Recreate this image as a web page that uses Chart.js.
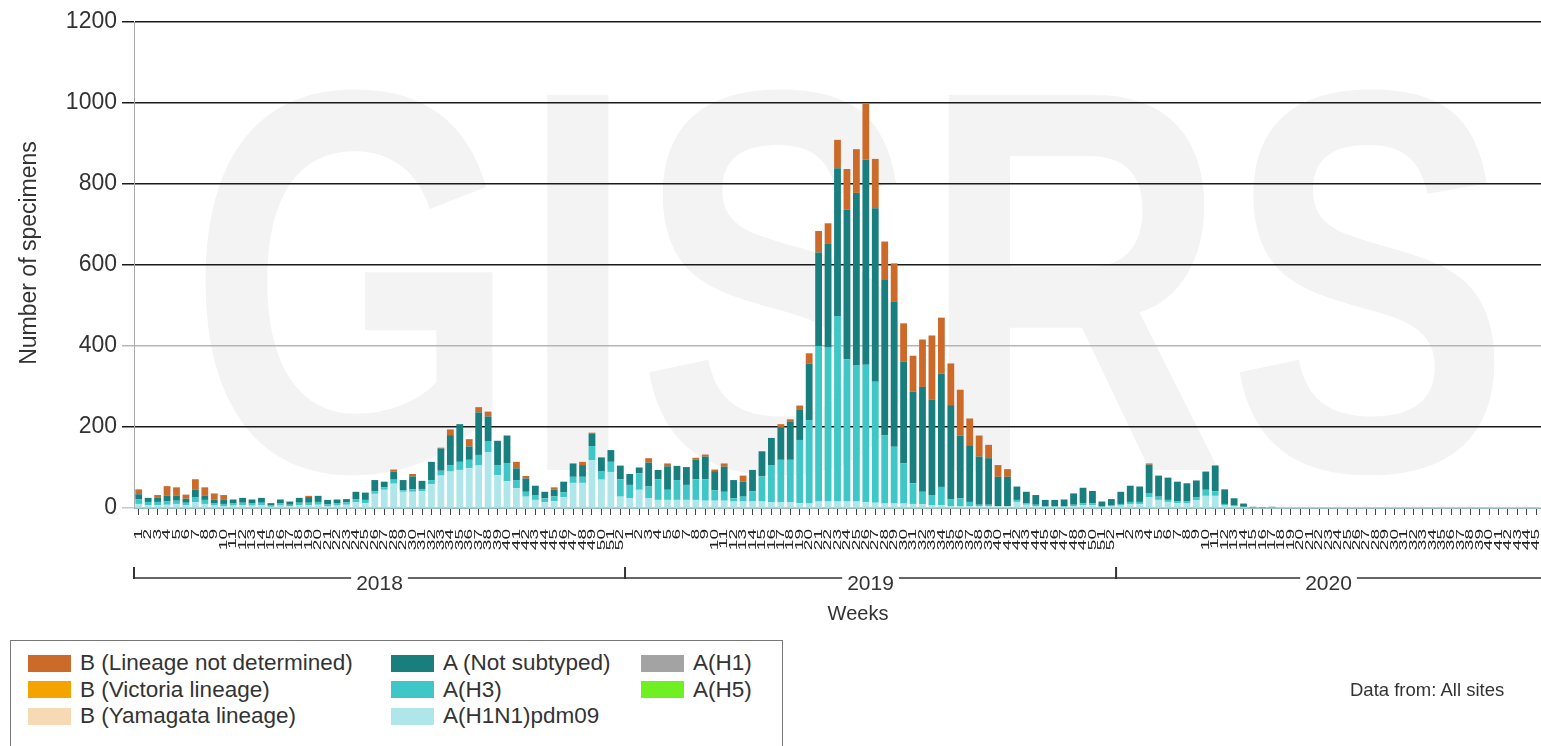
<!DOCTYPE html>
<html>
<head>
<meta charset="utf-8">
<script src="https://cdn.jsdelivr.net/npm/chart.js@4.4.1/dist/chart.umd.min.js"></script>
<style>
  html, body { margin: 0; padding: 0; background: #fff; }
  body { width: 1541px; height: 746px; position: relative; overflow: hidden;
         font-family: Arial, "Liberation Sans", sans-serif; color: #333; }
  #chart { position: absolute; left: 0; top: 0; }
  #weeks-title { position: absolute; left: 858px; top: 602px; transform: translateX(-50%);
                 font-size: 20px; }
  #legend { position: absolute; left: 10px; top: 640px; width: 773px; height: 120px;
            border: 1px solid #777; box-sizing: border-box; background: #fff;
            display: grid; grid-auto-flow: column; grid-template-rows: repeat(3, 26.5px);
            grid-template-columns: 363px 250px 140px; padding: 9px 0 0 17px; }
  .item { display: flex; align-items: center; font-size: 22.5px; white-space: nowrap; }
  .swatch { width: 43px; height: 17px; margin-right: 9px; flex: none; }
  #source { position: absolute; left: 1350px; top: 679px; font-size: 18.5px; }
</style>
</head>
<body>
<canvas id="chart" width="1541" height="746"></canvas>
<div id="weeks-title">Weeks</div>
<div id="legend"></div>
<div id="source">Data from: All sites</div>
<script>
// --- data ---
const years = ['2018', '2019', '2020'];
const weeksPerYear = [52, 52, 45];   // 2020 is cut at the right edge

const labels = [];
weeksPerYear.forEach(n => { for (let w = 1; w <= n; w++) labels.push(String(w)); });

// A(H1N1)pdm09
const h1n1pdm09 = [
  10, 7, 7, 8, 10, 7, 14, 10, 6, 5, 6, 7, 6, 7, 3, 6, 4, 7, 7, 8, 5, 6, 8, 14, 12, 35,
  45, 60, 40, 40, 42, 59, 80, 90, 94, 98, 105, 138, 81, 66, 49, 28, 20, 14, 17, 27, 62, 62, 118, 70, 89, 28,
  24, 45, 24, 20, 20, 20, 20, 20, 18, 18, 18, 16, 16, 16, 16, 14, 14, 14, 12, 11, 16, 16, 16, 16, 16, 14,
  13, 11, 11, 11, 10, 9, 7, 7, 5, 5, 5, 4, 4, 5, 5, 15, 8, 5, 3, 3, 3, 5, 7, 7, 2, 4,
  6, 10, 10, 27, 20, 15, 12, 11, 19, 30, 30, 6, 4, 2, 1, 0, 0, 0, 0, 0, 0, 0, 0,
  0, 0, 0, 0, 0, 0, 0, 0, 0, 0, 0, 0, 0, 0, 0, 0, 0, 0, 0, 0, 0, 0, 0
];
// A(H3)
const h3 = [
  11, 8, 8, 8, 8, 6, 13, 10, 5, 5, 5, 6, 5, 6, 3, 5, 4, 6, 6, 7, 4, 5, 6, 8, 8, 6,
  6, 10, 4, 6, 5, 10, 12, 16, 20, 21, 26, 26, 25, 45, 20, 12, 12, 10, 12, 12, 15, 15, 35, 20, 25, 43,
  33, 41, 29, 51, 25, 49, 37, 51, 53, 26, 22, 8, 12, 25, 62, 92, 105, 105, 156, 206, 384, 380, 458, 351, 337, 340,
  299, 169, 140, 99, 51, 31, 25, 45, 16, 19, 10, 4, 4, 0, 0, 5, 4, 3, 2, 2, 2, 3, 5, 5, 2, 2,
  4, 5, 5, 10, 8, 5, 5, 5, 8, 15, 11, 4, 2, 1, 0, 0, 0, 0, 0, 0, 0, 0, 0,
  0, 0, 0, 0, 0, 0, 0, 0, 0, 0, 0, 0, 0, 0, 0, 0, 0, 0, 0, 0, 0, 0, 0
];
// A (Not subtyped)
const aNotSubtyped = [
  13, 10, 10, 14, 13, 10, 18, 10, 10, 10, 10, 12, 10, 12, 6, 10, 8, 12, 14, 15, 11, 10, 8, 18, 18, 28,
  14, 20, 25, 32, 20, 45, 55, 74, 93, 33, 105, 62, 60, 68, 29, 33, 23, 16, 16, 26, 33, 29, 30, 35, 29, 33,
  27, 14, 59, 23, 58, 35, 44, 48, 56, 47, 62, 45, 37, 53, 62, 67, 80, 95, 74, 140, 231, 256, 365, 370, 425, 506,
  428, 383, 358, 251, 226, 259, 235, 280, 233, 155, 140, 119, 115, 72, 72, 33, 28, 24, 15, 15, 16, 28, 38, 30, 12, 16,
  30, 40, 38, 70, 52, 55, 48, 45, 41, 45, 64, 36, 18, 8, 2, 1, 3, 0, 0, 0, 0, 0, 0,
  0, 0, 0, 0, 0, 0, 0, 0, 0, 0, 0, 0, 0, 0, 0, 0, 0, 0, 0, 0, 0, 0, 0
];
// B (Lineage not determined)
const bNotDetermined = [
  12, 0, 7, 24, 20, 10, 26, 21, 15, 12, 0, 0, 0, 0, 0, 0, 0, 0, 3, 0, 0, 0, 0, 0, 0, 0,
  0, 5, 0, 6, 0, 0, 2, 14, 0, 18, 13, 12, 0, 0, 16, 6, 0, 0, 6, 0, 0, 8, 3, 0, 0, 1,
  0, 0, 11, 0, 7, 0, 0, 5, 5, 4, 8, 0, 15, 0, 0, 0, 8, 5, 11, 25, 53, 51, 70, 100, 108, 138,
  122, 95, 95, 95, 89, 117, 159, 138, 103, 113, 66, 52, 33, 29, 19, 0, 0, 0, 0, 0, 0, 0, 0, 0, 0, 0,
  0, 0, 0, 3, 0, 0, 0, 0, 0, 0, 0, 0, 0, 0, 0, 0, 0, 0, 0, 0, 0, 0, 0,
  0, 0, 0, 0, 0, 0, 0, 0, 0, 0, 0, 0, 0, 0, 0, 0, 0, 0, 0, 0, 0, 0, 0
];
// series with no specimens in this period
const bVictoria = [];
const bYamagata = [];
const aH1 = [];
const aH5 = [];

const yTicks = [0, 200, 400, 600, 800, 1000, 1200];

const COLORS = {
  bNotDetermined: '#cc6a2a',
  bVictoria: '#f5a300',
  bYamagata: '#f7dab4',
  aNotSubtyped: '#187e7e',
  h3: '#3fc6c6',
  h1n1pdm09: '#aee6ea',
  aH1: '#a3a3a3',
  aH5: '#6ef022'
};

const FONT = 'Arial, "Liberation Sans", sans-serif';

// legend is laid out in columns, top to bottom
const legendItems = [
  { label: 'B (Lineage not determined)', color: COLORS.bNotDetermined },
  { label: 'B (Victoria lineage)', color: COLORS.bVictoria },
  { label: 'B (Yamagata lineage)', color: COLORS.bYamagata },
  { label: 'A (Not subtyped)', color: COLORS.aNotSubtyped },
  { label: 'A(H3)', color: COLORS.h3 },
  { label: 'A(H1N1)pdm09', color: COLORS.h1n1pdm09 },
  { label: 'A(H1)', color: COLORS.aH1 },
  { label: 'A(H5)', color: COLORS.aH5 }
];

const legendEl = document.getElementById('legend');
legendItems.forEach(it => {
  const d = document.createElement('div');
  d.className = 'item';
  d.innerHTML = `<span class="swatch" style="background:${it.color}"></span>${it.label}`;
  legendEl.appendChild(d);
});

// big faint watermark behind the plot
const watermark = {
  id: 'watermark',
  beforeDraw(chart) {
    const { ctx, chartArea } = chart;
    ctx.save();
    ctx.fillStyle = '#f3f3f3';
    ctx.translate((chartArea.left + chartArea.right) / 2 + 12, chartArea.top + 448);
    ctx.scale(0.78, 1);
    ctx.font = 'bold 545px ' + FONT;
    ctx.textAlign = 'center';
    ctx.textBaseline = 'alphabetic';
    ctx.fillText('GISRS', 0, 0);
    ctx.restore();
  }
};

// week numbers, rotated and squeezed like the original
const weekLabels = {
  id: 'weekLabels',
  afterDraw(chart) {
    const { ctx, chartArea } = chart;
    const xs = chart.scales.x;
    ctx.save();
    ctx.fillStyle = '#222';
    ctx.font = '19px ' + FONT;
    ctx.textAlign = 'right';
    ctx.textBaseline = 'middle';
    labels.forEach((lab, i) => {
      const x = xs.getPixelForValue(i);
      if (x > chartArea.right + 5) return;
      ctx.save();
      ctx.translate(x, chartArea.bottom + 21);
      ctx.rotate(-Math.PI / 2);
      ctx.scale(1, 0.6);
      ctx.fillText(lab, 0, 0);
      ctx.restore();
    });
    ctx.restore();
  }
};

// y axis title, sitting a bit above the middle of the plot
const yTitle = {
  id: 'yTitle',
  afterDraw(chart) {
    const { ctx, chartArea } = chart;
    ctx.save();
    ctx.translate(30, (chartArea.top + chartArea.bottom) / 2 - 12);
    ctx.rotate(-Math.PI / 2);
    ctx.font = '23px ' + FONT;
    ctx.fillStyle = '#333';
    ctx.textAlign = 'center';
    ctx.textBaseline = 'middle';
    ctx.fillText('Number of specimens', 0, 0);
    ctx.restore();
  }
};

// second row under the weeks: one bracket per year
const yearAxis = {
  id: 'yearAxis',
  afterDraw(chart) {
    const { ctx, chartArea } = chart;
    const xs = chart.scales.x;
    const half = (xs.getPixelForValue(1) - xs.getPixelForValue(0)) / 2;
    const y = chartArea.bottom + 70;
    ctx.save();
    ctx.strokeStyle = '#333';
    ctx.lineWidth = 1.5;
    ctx.beginPath();
    ctx.moveTo(chartArea.left, y);
    ctx.lineTo(chartArea.right, y);
    ctx.stroke();
    let start = 0;
    years.forEach((yr, i) => {
      const x0 = xs.getPixelForValue(start) - half;
      const x1 = Math.min(xs.getPixelForValue(start + weeksPerYear[i] - 1) + half, chartArea.right);
      ctx.lineWidth = 2;
      ctx.beginPath();
      ctx.moveTo(x0, y - 11);
      ctx.lineTo(x0, y + 1);
      ctx.stroke();
      ctx.font = '21px ' + FONT;
      const w = ctx.measureText(yr).width;
      const cx = (x0 + x1) / 2;
      ctx.fillStyle = '#fff';
      ctx.fillRect(cx - w / 2 - 5, y - 3, w + 10, 6);
      ctx.fillStyle = '#333';
      ctx.textAlign = 'center';
      ctx.textBaseline = 'middle';
      ctx.fillText(yr, cx, y + 6);
      start += weeksPerYear[i];
    });
    ctx.restore();
  }
};

const mk = (label, data, color) => ({
  label, data, backgroundColor: color, borderWidth: 0,
  barPercentage: 0.72, categoryPercentage: 1.0, stack: 's'
});

new Chart(document.getElementById('chart'), {
  type: 'bar',
  data: {
    labels: labels,
    datasets: [
      mk('A(H1N1)pdm09', h1n1pdm09, COLORS.h1n1pdm09),
      mk('A(H3)', h3, COLORS.h3),
      mk('A(H1)', aH1, COLORS.aH1),
      mk('A(H5)', aH5, COLORS.aH5),
      mk('A (Not subtyped)', aNotSubtyped, COLORS.aNotSubtyped),
      mk('B (Yamagata lineage)', bYamagata, COLORS.bYamagata),
      mk('B (Victoria lineage)', bVictoria, COLORS.bVictoria),
      mk('B (Lineage not determined)', bNotDetermined, COLORS.bNotDetermined)
    ]
  },
  options: {
    responsive: false,
    animation: false,
    layout: { padding: { top: 22, right: 0, left: 0, bottom: 0 } },
    plugins: {
      legend: { display: false },
      tooltip: { enabled: false }
    },
    scales: {
      x: {
        stacked: true,
        grid: { drawOnChartArea: false, drawTicks: true, tickLength: 7, color: '#444', offset: false },
        border: { display: true, color: '#9bb', width: 1 },
        ticks: { display: false, autoSkip: false },
        afterFit(scale) { scale.height = 238; scale.paddingLeft = 0; scale.paddingRight = 0; }
      },
      y: {
        stacked: true,
        min: 0, max: 1200,
        afterBuildTicks(scale) { scale.ticks = yTicks.map(v => ({ value: v })); },
        grid: {
          color: ctx => ctx.tick && ctx.tick.value === 400 ? '#b5b5b5' : (ctx.tick && ctx.tick.value === 0 ? '#bcc' : '#1a1a1a'),
          lineWidth: 1.5, tickLength: 12, drawTicks: true
        },
        border: { display: true, color: '#aaa', width: 1 },
        ticks: {
          padding: 5, color: '#333',
          font: { size: 23, family: FONT },
          callback: v => String(v)
        },
        afterFit(scale) { scale.width = 134; }
      }
    }
  },
  plugins: [watermark, weekLabels, yTitle, yearAxis]
});
</script>
</body>
</html>
